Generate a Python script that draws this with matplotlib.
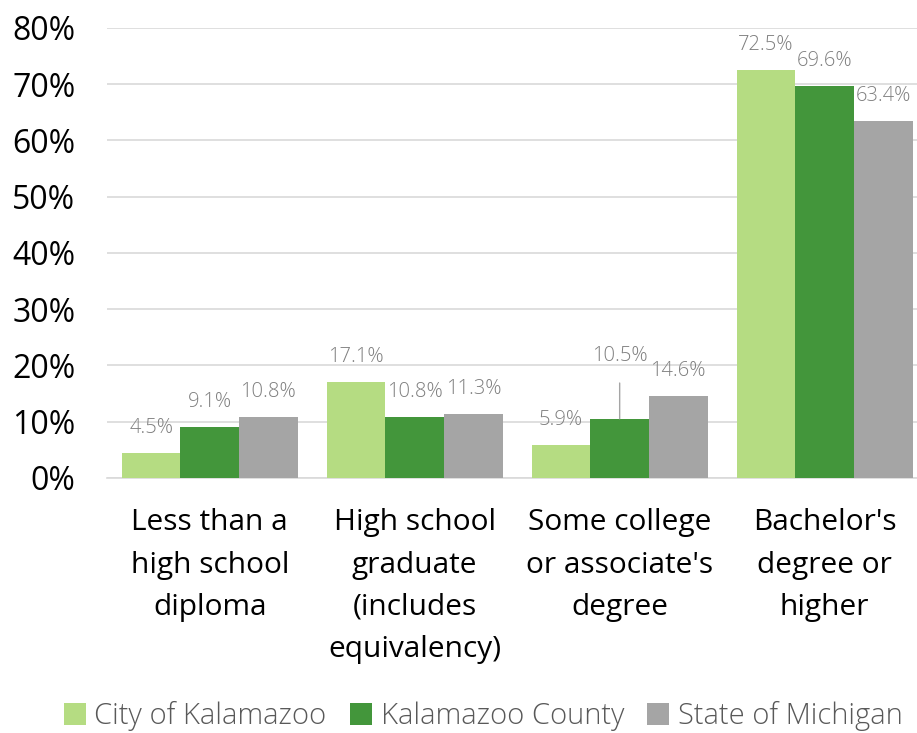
import numpy as np
import matplotlib.pyplot as plt

categories = ["Less than a\nhigh school\ndiploma",
              "High school\ngraduate\n(includes\nequivalency)",
              "Some college\nor associate's\ndegree",
              "Bachelor's\ndegree or\nhigher"]
series_names = ["City of Kalamazoo", "Kalamazoo County", "State of Michigan"]
city = [4.5, 17.1, 5.9, 72.5]
county = [9.1, 10.8, 10.5, 69.6]
state = [10.8, 11.3, 14.6, 63.4]
colors = ["#B5DC82", "#43963B", "#A5A5A5"]

plt.rcParams['font.family'] = ['Open Sans', 'DejaVu Sans']

fig = plt.figure(figsize=(9.17, 7.33), dpi=100)
ax = fig.add_axes([0.117, 0.348, 0.894, 0.614])

x = np.arange(len(categories))
w = 0.286
for i, (vals, name) in enumerate(zip([city, county, state], series_names)):
    pos = x + (i - 1) * w
    ax.bar(pos, vals, width=w, color=colors[i], label=name, zorder=3)
    for j, (px, v) in enumerate(zip(pos, vals)):
        if i == 1 and j == 2:
            # leader line for the moved label
            ax.annotate(f"{v}%", xy=(px, v), xytext=(0, 45), textcoords='offset points',
                        ha='center', va='center', fontsize=14.5, color='#7F7F7F',
                        fontweight='light',
                        arrowprops=dict(arrowstyle='-', color='#A5A5A5', lw=1,
                                        shrinkA=10, shrinkB=0))
        else:
            ax.annotate(f"{v}%", xy=(px, v), xytext=(0, 18), textcoords='offset points',
                        ha='center', va='center', fontsize=14.5, color='#7F7F7F',
                        fontweight='light')

ax.set_xlim(-0.5, 3.5)
ax.set_ylim(0, 80)
ax.set_yticks(range(0, 81, 10))
ax.set_yticklabels([f"{t}%" for t in range(0, 81, 10)], fontsize=23)
ax.set_xticks(x)
ax.set_xticklabels(categories, fontsize=21.5, linespacing=1.6, va='top')
ax.tick_params(axis='both', length=0)
ax.tick_params(axis='x', pad=22)
ax.tick_params(axis='y', pad=23)
ax.grid(axis='y', color='#D9D9D9', lw=1.2, zorder=0)
for s in ['top', 'right', 'left']:
    ax.spines[s].set_visible(False)
ax.spines['bottom'].set_color('#D9D9D9')
ax.spines['bottom'].set_linewidth(1.2)

leg = fig.legend(loc='center', bbox_to_anchor=(0.527, 0.023), ncol=3, frameon=False,
                 fontsize=21, handlelength=0.75, handleheight=0.75, handletextpad=0.3,
                 columnspacing=0.8)
for t in leg.get_texts():
    t.set_color('#595959')
    t.set_fontweight('light')

fig.savefig("out.png", dpi=100)
